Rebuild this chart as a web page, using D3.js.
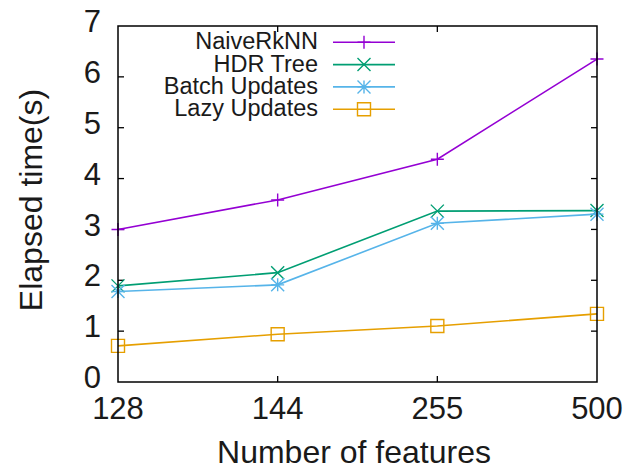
<!DOCTYPE html>
<html>
<head>
<meta charset="utf-8">
<script src="https://cdn.jsdelivr.net/npm/d3@7"></script>
<style>
  html, body { margin: 0; padding: 0; background: #fff; }
  svg { display: block; font-family: "Liberation Sans", Arial, sans-serif; }
</style>
</head>
<body>
<svg id="chart" width="625" height="469"></svg>
<script>
// Feature counts on the x axis
const categories = ["128", "144", "255", "500"];
const yTicks = [0, 1, 2, 3, 4, 5, 6, 7];

// Elapsed time (s) per method
const naiveRkNN = [3.0, 3.58, 4.38, 6.35];
const hdrTree   = [1.89, 2.15, 3.36, 3.37];
const batchUpd  = [1.78, 1.91, 3.12, 3.30];
const lazyUpd   = [0.71, 0.94, 1.10, 1.34];

const seriesNames = ["NaiveRkNN", "HDR Tree", "Batch Updates", "Lazy Updates"];

const series = [
  { name: seriesNames[0], values: naiveRkNN, color: "#9400d3", marker: "plus" },
  { name: seriesNames[1], values: hdrTree,   color: "#009e73", marker: "cross" },
  { name: seriesNames[2], values: batchUpd,  color: "#56b4e9", marker: "star" },
  { name: seriesNames[3], values: lazyUpd,   color: "#e69f00", marker: "square" }
];

const svg = d3.select("#chart");
const pLeft = 118, pRight = 597, pTop = 26, pBottom = 382;

const x = d3.scalePoint().domain(categories).range([pLeft, pRight]);
const y = d3.scaleLinear().domain([0, 7]).range([pBottom, pTop]);

// Markers drawn as paths centred at the origin
function markerPath(type, s) {
  const p = d3.path();
  if (type === "plus") {
    p.moveTo(-s, 0); p.lineTo(s, 0); p.moveTo(0, -s); p.lineTo(0, s);
  } else if (type === "cross") {
    p.moveTo(-s, -s); p.lineTo(s, s); p.moveTo(-s, s); p.lineTo(s, -s);
  } else if (type === "star") {
    p.moveTo(-s, 0); p.lineTo(s, 0); p.moveTo(0, -s); p.lineTo(0, s);
    p.moveTo(-s, -s); p.lineTo(s, s); p.moveTo(-s, s); p.lineTo(s, -s);
  } else if (type === "square") {
    p.rect(-s, -s, 2 * s, 2 * s);
  }
  return p.toString();
}

const ml = 6.5; // marker half-size

// Inward ticks, mirrored on all sides
const axisG = svg.append("g").attr("stroke", "#000").attr("stroke-width", 1.3);
yTicks.forEach(t => {
  if (t === 0 || t === 7) return;
  axisG.append("line").attr("x1", pLeft).attr("x2", pLeft + 6).attr("y1", y(t)).attr("y2", y(t));
  axisG.append("line").attr("x1", pRight).attr("x2", pRight - 6).attr("y1", y(t)).attr("y2", y(t));
});
categories.forEach((c, i) => {
  if (i === 0 || i === categories.length - 1) return;
  axisG.append("line").attr("x1", x(c)).attr("x2", x(c)).attr("y1", pBottom).attr("y2", pBottom - 6);
  axisG.append("line").attr("x1", x(c)).attr("x2", x(c)).attr("y1", pTop).attr("y2", pTop + 6);
});

// Tick labels
svg.append("g").selectAll("text").data(yTicks).join("text")
  .attr("x", 101).attr("y", d => y(d) - 5).attr("dy", "0.36em")
  .attr("text-anchor", "end").attr("font-size", 31).attr("fill", "#1a1a1a")
  .text(d => d);

svg.append("g").selectAll("text").data(categories).join("text")
  .attr("x", d => x(d)).attr("y", 408).attr("dy", "0.36em")
  .attr("text-anchor", "middle").attr("font-size", 31).attr("fill", "#1a1a1a")
  .text(d => d);

// Axis titles
svg.append("text").attr("x", 354).attr("y", 463)
  .attr("text-anchor", "middle").attr("font-size", 32).attr("fill", "#1a1a1a")
  .text("Number of features");

svg.append("text").attr("transform", "translate(42,200) rotate(-90)")
  .attr("text-anchor", "middle").attr("font-size", 32).attr("fill", "#1a1a1a")
  .text("Elapsed time(s)");

// Lines and markers
const line = d3.line().x((d, i) => x(categories[i])).y(d => y(d));
series.forEach(s => {
  const g = svg.append("g");
  g.append("path").attr("d", line(s.values)).attr("fill", "none")
    .attr("stroke", s.color).attr("stroke-width", 1.6);
  g.selectAll("path.m").data(s.values).join("path").attr("class", "m")
    .attr("transform", (d, i) => `translate(${x(categories[i])},${y(d)})`)
    .attr("d", markerPath(s.marker, ml))
    .attr("fill", "none").attr("stroke", s.color).attr("stroke-width", 1.4);
});

// Legend
const legend = svg.append("g");
series.forEach((s, i) => {
  const ly = 42.3 + i * 22.3;
  legend.append("text").attr("x", 318).attr("y", ly - 1.5).attr("dy", "0.36em")
    .attr("text-anchor", "end").attr("font-size", 23.5).attr("fill", "#1a1a1a").text(s.name);
  legend.append("line").attr("x1", 333).attr("x2", 395).attr("y1", ly).attr("y2", ly)
    .attr("stroke", s.color).attr("stroke-width", 1.6);
  legend.append("path").attr("transform", `translate(364,${ly})`)
    .attr("d", markerPath(s.marker, ml)).attr("fill", "none")
    .attr("stroke", s.color).attr("stroke-width", 1.4);
});

// Plot frame
svg.append("rect").attr("x", pLeft).attr("y", pTop).attr("width", pRight - pLeft).attr("height", pBottom - pTop)
  .attr("fill", "none").attr("stroke", "#000").attr("stroke-width", 1.5);
</script>
</body>
</html>
